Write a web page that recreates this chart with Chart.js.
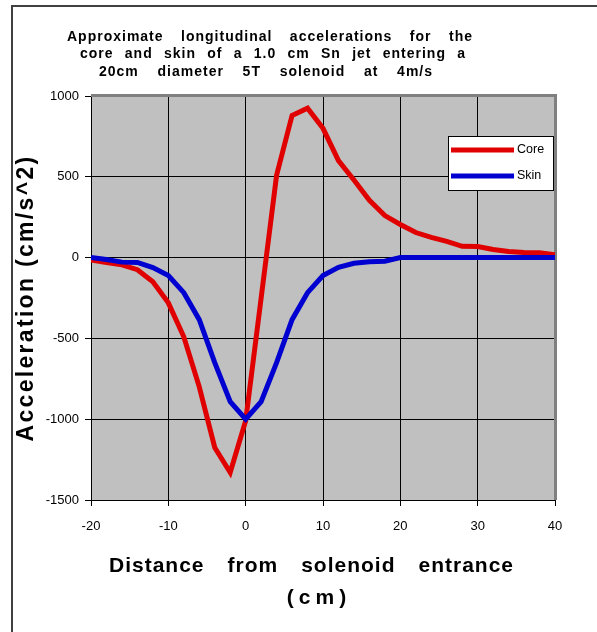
<!DOCTYPE html>
<html>
<head>
<meta charset="utf-8">
<script src="https://cdn.jsdelivr.net/npm/chart.js@4/dist/chart.umd.min.js"></script>
<style>
  html, body { margin: 0; padding: 0; background: #fff; }
  #wrap { width: 597px; height: 632px; position: relative; }
</style>
</head>
<body>
<div id="wrap"><canvas id="accelChart"></canvas></div>
<script>
// distance from solenoid entrance (cm)
const distance = [-20, -18, -16, -14, -12, -10, -8, -6, -4, -2, 0, 2, 4, 6, 8, 10, 12, 14, 16, 18, 20, 22, 24, 26, 28, 30, 32, 34, 36, 38, 40];
// acceleration (cm/s^2)
const coreAccel = [-15, -30, -45, -75, -150, -280, -490, -800, -1175, -1330, -1010, -250, 510, 880, 925, 800, 600, 480, 355, 260, 205, 155, 125, 100, 70, 68, 50, 38, 32, 30, 18];
const skinAccel = [0, -12, -28, -30, -62, -111, -217, -384, -650, -891, -1000, -891, -650, -384, -217, -111, -60, -35, -25, -22, 0, 0, 0, 0, 0, 0, 0, 0, 0, 0, 0];

const seriesNames = ['Core', 'Skin'];
const seriesColors = ['#e00000', '#0000d0'];

const titleLines = [
  'Approximate longitudinal accelerations for the',
  'core and skin of a 1.0 cm Sn jet entering a',
  '20cm diameter 5T solenoid at 4m/s'
];
const xTitle = ['Distance from solenoid entrance', '(cm)'];
const yTitle = 'Acceleration (cm/s^2)';

const FONT = "'Liberation Sans', Arial, sans-serif";

// draw words spread between left and right edges
function drawJustified(ctx, text, left, right, cy, spacing) {
  ctx.letterSpacing = spacing + 'px';
  const words = text.split(' ');
  const widths = words.map(w => ctx.measureText(w).width);
  const sum = widths.reduce((a, b) => a + b, 0);
  const gap = words.length > 1 ? (right - left - sum) / (words.length - 1) : 0;
  let x = words.length > 1 ? left : (left + right - sum) / 2;
  ctx.textAlign = 'left';
  words.forEach((w, i) => {
    ctx.fillText(w, x, cy);
    x += widths[i] + gap;
  });
}

const decorPlugin = {
  id: 'decor',
  beforeDraw(chart) {
    const { ctx, chartArea: a } = chart;
    ctx.save();
    ctx.fillStyle = '#fff';
    ctx.fillRect(0, 0, chart.width, chart.height);
    // outer frame
    ctx.strokeStyle = '#404040';
    ctx.lineWidth = 2;
    ctx.beginPath();
    ctx.moveTo(12, chart.height);
    ctx.lineTo(12, 6);
    ctx.lineTo(chart.width, 6);
    ctx.stroke();
    // plot background
    ctx.fillStyle = '#c0c0c0';
    ctx.fillRect(a.left, a.top, a.right - a.left, a.bottom - a.top);
    ctx.restore();
  },
  beforeDatasetsDraw(chart) {
    const { ctx, chartArea: a } = chart;
    ctx.save();
    ctx.strokeStyle = '#808080';
    ctx.lineWidth = 3;
    ctx.beginPath();
    ctx.moveTo(a.left, a.top - 0.5);
    ctx.lineTo(a.right + 0.5, a.top - 0.5);
    ctx.lineTo(a.right + 0.5, a.bottom);
    ctx.stroke();
    ctx.restore();
  },
  afterDraw(chart) {
    const { ctx, chartArea: a } = chart;
    ctx.save();
    ctx.fillStyle = '#000';
    ctx.textBaseline = 'middle';

    // chart title
    ctx.font = 'bold 14px ' + FONT;
    drawJustified(ctx, titleLines[0], 67, 473, 37, 1);
    drawJustified(ctx, titleLines[1], 80, 466, 54, 1);
    drawJustified(ctx, titleLines[2], 99, 433, 72, 1);

    // x axis title
    ctx.font = 'bold 21px ' + FONT;
    drawJustified(ctx, xTitle[0], 109, 514, 566, 1);
    ctx.letterSpacing = '5px';
    ctx.textAlign = 'center';
    ctx.fillText(xTitle[1], 319, 598);

    // y axis title, stretched along the plot height
    ctx.font = 'bold 23px ' + FONT;
    ctx.letterSpacing = '0px';
    const w0 = ctx.measureText(yTitle).width;
    ctx.letterSpacing = ((287 - w0) / yTitle.length) + 'px';
    ctx.translate(27, (a.top + a.bottom) / 2);
    ctx.rotate(-Math.PI / 2);
    ctx.textAlign = 'center';
    ctx.fillText(yTitle, 0, 0);
    ctx.restore();

    // legend box
    ctx.save();
    const lx = a.right - 107, ly = a.top + 40, lw = 105, lh = 54;
    ctx.fillStyle = '#fff';
    ctx.fillRect(lx, ly, lw, lh);
    ctx.strokeStyle = '#000';
    ctx.lineWidth = 1;
    ctx.strokeRect(lx + 0.5, ly + 0.5, lw, lh);
    ctx.font = '12.5px ' + FONT;
    ctx.textBaseline = 'middle';
    ctx.textAlign = 'left';
    chart.data.datasets.forEach((ds, i) => {
      const y = ly + 14 + i * 26;
      ctx.strokeStyle = ds.borderColor;
      ctx.lineWidth = 5;
      ctx.beginPath();
      ctx.moveTo(lx + 3, y);
      ctx.lineTo(lx + 66, y);
      ctx.stroke();
      ctx.fillStyle = '#000';
      ctx.fillText(ds.label, lx + 69, y);
    });
    ctx.restore();
  }
};

const ctx = document.getElementById('accelChart').getContext('2d');
new Chart(ctx, {
  type: 'line',
  data: {
    datasets: [
      {
        label: seriesNames[0],
        data: distance.map((d, i) => ({ x: d, y: coreAccel[i] })),
        borderColor: seriesColors[0],
        borderWidth: 5,
        pointRadius: 0,
        tension: 0,
        fill: false,
        order: 1
      },
      {
        label: seriesNames[1],
        data: distance.map((d, i) => ({ x: d, y: skinAccel[i] })),
        borderColor: seriesColors[1],
        borderWidth: 5,
        pointRadius: 0,
        tension: 0,
        fill: false,
        order: 0
      }
    ]
  },
  options: {
    responsive: true,
    maintainAspectRatio: false,
    animation: false,
    layout: { padding: { left: 0, top: 96, right: 42, bottom: 92 } },
    plugins: {
      legend: { display: false },
      title: { display: false },
      tooltip: { enabled: false }
    },
    scales: {
      x: {
        type: 'linear',
        min: -20,
        max: 40,
        afterFit: s => { s.height = 40; },
        ticks: { stepSize: 10, color: '#000', padding: 13, font: { family: FONT, size: 13 } },
        grid: { color: '#000', lineWidth: 1, tickColor: '#000', tickLength: 6 },
        border: { color: '#000', width: 1 }
      },
      y: {
        min: -1500,
        max: 1000,
        afterFit: s => { s.width = 91; },
        ticks: {
          stepSize: 500,
          color: '#000',
          padding: 6,
          font: { family: FONT, size: 13 },
          callback: v => String(v)
        },
        grid: { color: '#000', lineWidth: 1, tickColor: '#000', tickLength: 6 },
        border: { color: '#000', width: 1 }
      }
    }
  },
  plugins: [decorPlugin]
});
</script>
</body>
</html>
